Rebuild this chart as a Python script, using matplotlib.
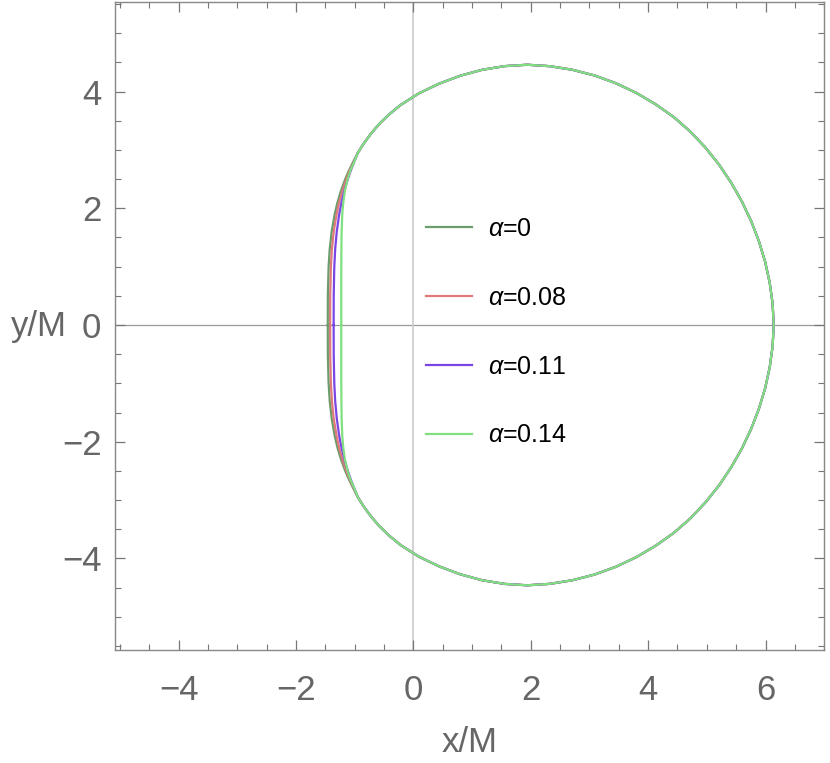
import matplotlib
matplotlib.use("Agg")
import matplotlib.pyplot as plt
import numpy as np
from matplotlib.ticker import MultipleLocator, FuncFormatter

plt.rcParams['font.family'] = ['Liberation Sans', 'DejaVu Sans']
plt.rcParams['mathtext.fontset'] = 'custom'
plt.rcParams['mathtext.it'] = 'Liberation Sans:italic'

# shadow outline, upper half (lower half is the mirror)
# shared arc, from upper left going clockwise down to the x axis on the right
arc_x = [-0.95, -0.85, -0.72, -0.58, -0.42, -0.22, 0.09, 0.435, 0.796, 1.169,
         1.552, 1.94, 2.328, 2.711, 3.086, 3.448, 3.795, 4.125, 4.435, 4.72,
         4.978, 5.211, 5.417, 5.599, 5.756, 5.887, 5.993, 6.071, 6.121, 6.14]
arc_y = [2.946, 3.107, 3.284, 3.448, 3.604, 3.77, 3.968, 4.135, 4.271, 4.373,
         4.436, 4.46, 4.435, 4.373, 4.276, 4.144, 3.979, 3.784, 3.564, 3.313,
         3.038, 2.745, 2.435, 2.113, 1.779, 1.436, 1.086, 0.728, 0.366, 0.0]

# left edge of each curve (where they differ), from the x axis upwards
left_y = [0.0, 0.5, 1.0, 1.3, 1.6, 1.9, 2.1, 2.3, 2.5, 2.65, 2.77]
left_a0 = [-1.46, -1.459, -1.446, -1.427, -1.394, -1.342, -1.295, -1.236, -1.163, -1.098, -1.04]
left_a008 = [-1.42, -1.419, -1.407, -1.39, -1.359, -1.31, -1.267, -1.211, -1.144, -1.084, -1.03]
left_a011 = [-1.36, -1.359, -1.349, -1.334, -1.307, -1.265, -1.226, -1.178, -1.119, -1.067, -1.02]
left_a014 = [-1.23, -1.23, -1.23, -1.228, -1.224, -1.213, -1.196, -1.169, -1.123, -1.073, -1.02]

labels = [r'$\alpha$=0', r'$\alpha$=0.08', r'$\alpha$=0.11', r'$\alpha$=0.14']
colors = ['#6b9c6b', '#e07a7a', '#7b45e6', '#80e080']
lefts = [left_a0, left_a008, left_a011, left_a014]

fig = plt.figure(figsize=(8.3, 7.63), dpi=100)
ax = fig.add_axes([0.139, 0.148, 0.854, 0.849])

ax.axhline(0, color='#999999', lw=0.9, zorder=1)
ax.axvline(0, color='#cccccc', lw=1.2, zorder=1)

for lx, lab, c in zip(lefts, labels, colors):
    ux = np.array(lx + arc_x)
    uy = np.array(left_y + arc_y)
    # close the curve with the mirrored lower half
    xs = np.concatenate([ux, ux[::-1]])
    ys = np.concatenate([uy, -uy[::-1]])
    ax.plot(xs, ys, color=c, lw=1.6, label=lab, zorder=3, solid_joinstyle='round')

ax.set_xlim(-5.08, 7.0)
ax.set_ylim(-5.57, 5.53)

fmt = FuncFormatter(lambda v, p: ('\u2212%d' % abs(v)) if v < 0 else '%d' % v)
for axis in (ax.xaxis, ax.yaxis):
    axis.set_major_locator(MultipleLocator(2))
    axis.set_minor_locator(MultipleLocator(0.5))
    axis.set_major_formatter(fmt)
ax.tick_params(which='both', direction='in', top=True, right=True, color='#777777',
               labelcolor='#666666', labelsize=25)
ax.tick_params(which='major', length=7, width=0.9, pad=10)
ax.tick_params(which='minor', length=4, width=0.8)
ax.tick_params(axis='x', which='major', pad=17)
for s in ax.spines.values():
    s.set_color('#888888')
    s.set_linewidth(1.0)

ax.set_xlabel('x/M', fontsize=25, color='#666666', labelpad=14)
ax.set_ylabel('y/M', fontsize=25, color='#666666', rotation=0, va='center', ha='center')
ax.yaxis.set_label_coords(-0.108, 0.5)

ax.legend(loc='upper left', bbox_to_anchor=(0.406, 0.703), frameon=False, fontsize=18,
          handlelength=1.84, handletextpad=0.64, labelspacing=1.79)

fig.savefig('out.png', dpi=100)
